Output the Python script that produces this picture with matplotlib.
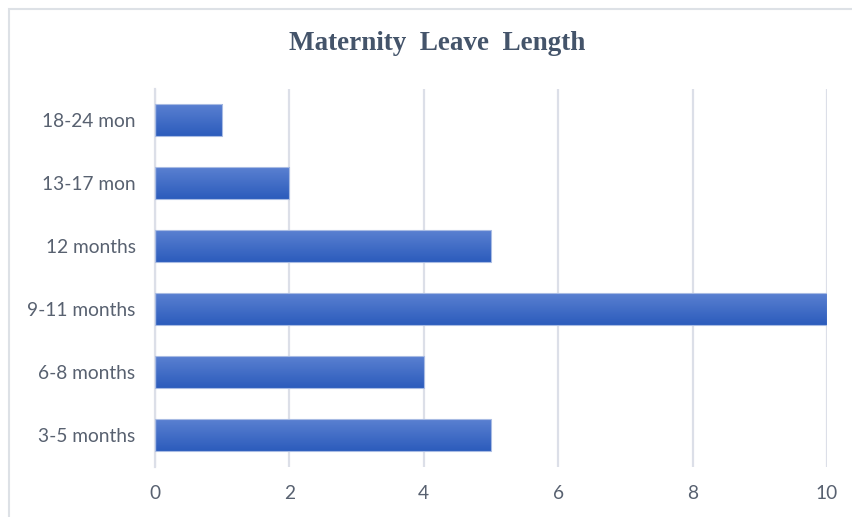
import matplotlib

matplotlib.use('Agg')
import matplotlib.pyplot as plt
import numpy as np
from matplotlib.patches import Rectangle
from matplotlib.colors import LinearSegmentedColormap

categories = ['3-5 months', '6-8 months', '9-11 months', '12 months',
              '13-17 mon', '18-24 mon']
values = [5, 4, 10, 5, 2, 1]
x_ticks = [0, 2, 4, 6, 8, 10]

title_color = '#44546a'
label_color = '#586170'
grid_color = '#dcdfe8'

fig = plt.figure(figsize=(8.52, 5.17), dpi=100)
ax = fig.add_axes([155 / 852, 1 - 466.5 / 517, 672 / 852, 378 / 517])

y = np.arange(len(categories))
bars = ax.barh(y, values, height=0.5, color='none',
               edgecolor='#a8bbe3', linewidth=0.8, zorder=3)

# gradient fill for each bar
grad = LinearSegmentedColormap.from_list('g', ['#5a80d1', '#2c5cbc'])
img = np.linspace(0, 1, 64).reshape(-1, 1)
for b in bars:
  x0, y0 = b.get_x(), b.get_y()
  w, h = b.get_width(), b.get_height()
  ax.imshow(img, cmap=grad, aspect='auto', origin='upper',
            extent=[x0, x0 + w, y0, y0 + h], zorder=2)

ax.set_xlim(0, 10)
ax.set_ylim(-0.5, len(categories) - 0.5)
ax.set_xticks(x_ticks)
ax.set_yticks(y)
ax.set_yticklabels(categories)
ax.grid(axis='x', color=grid_color, linewidth=1.6, zorder=0)
for s in ['top', 'right', 'bottom']:
  ax.spines[s].set_visible(False)
ax.spines['left'].set_color(grid_color)
ax.spines['left'].set_linewidth(1.6)
ax.tick_params(length=0, labelsize=13.8, labelcolor=label_color)
ax.tick_params(axis='y', pad=14)
ax.tick_params(axis='x', pad=13)
for lbl in ax.get_xticklabels() + ax.get_yticklabels():
  lbl.set_family(['Lato', 'DejaVu Sans'])

fig.text(437 / 852, 1 - 43 / 517, 'Maternity  Leave  Length',
         ha='center', va='center', fontsize=19.5, fontweight='bold',
         color=title_color, family=['Liberation Serif', 'DejaVu Serif'])

fig.patches.append(Rectangle((8.5 / 852, -0.1), 1.2, 1 - 8.5 / 517 + 0.1,
                             transform=fig.transFigure, fill=False,
                             edgecolor='#dde1e6', linewidth=1.5))

plt.savefig('out.png', dpi=100)
plt.close()
